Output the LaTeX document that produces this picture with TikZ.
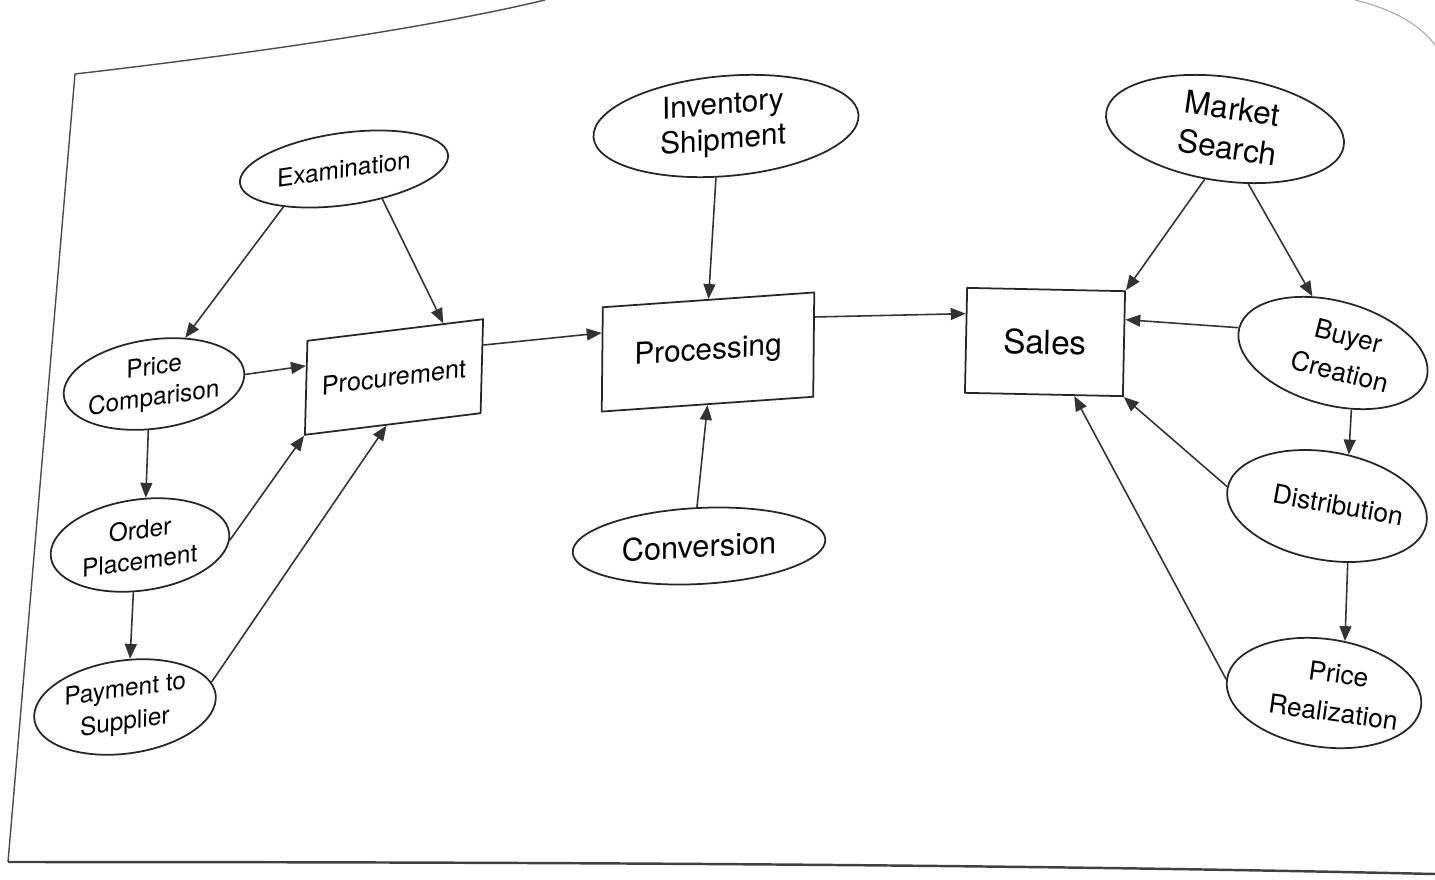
\documentclass[tikz,border=0pt]{standalone}
\usepackage{fontspec}
\setmainfont{TeX Gyre Heros}
\usetikzlibrary{shapes.geometric, arrows.meta, calc}
\begin{document}
\begin{tikzpicture}[x=0.02cm, y=-0.02cm,
  ell/.style={draw=black!85, line width=1pt, ellipse, inner sep=0pt},
  box/.style={draw=black!85, line width=1pt, rectangle, inner sep=0pt},
  lbl/.style={inner sep=0pt, align=center, text=black},
  arr/.style={draw=black!80, line width=0.9pt, -{Triangle[length=8.5pt, width=6.8pt]}},
  frame/.style={draw=black!70, line width=0.8pt}
]
\useasboundingbox (0,0) rectangle (1435,879);

% page frame
\draw[frame] (8,862) -- (75,74) .. controls (230,56) and (420,30) .. (545,0);
\draw[frame, draw=black!75, line width=1.4pt] (8,862) .. controls (500,862) and (1000,864) .. (1435,874);
\draw[black!35, line width=0.6pt] (1355,0) .. controls (1395,10) and (1420,25) .. (1435,45);

% left group
\node[ell, rotate=8, minimum width=4.2cm, minimum height=1.44cm] (exam) at (344,169) {};
\node[lbl, rotate=8, xslant=0.15, font=\fontsize{14}{17.5}\selectfont] (examT) at (exam.center) {Examination};

\node[ell, rotate=8, minimum width=3.64cm, minimum height=1.78cm] (pc) at (154,384) {};
\node[lbl, rotate=8, xslant=0.15, font=\fontsize{14}{17.5}\selectfont] (pcT) at (pc.center) {Price\\Comparison};

\node[ell, rotate=8, minimum width=3.6cm, minimum height=1.82cm] (op) at (140,545) {};
\node[lbl, rotate=8, xslant=0.15, font=\fontsize{14}{17.5}\selectfont] (opT) at (op.center) {Order\\Placement};

\node[ell, rotate=8, minimum width=3.66cm, minimum height=1.86cm] (pay) at (125,707) {};
\node[lbl, rotate=8, xslant=0.15, font=\fontsize{14}{18.5}\selectfont] (payT) at (pay.center) {Payment to\\Supplier};

\node[box, rotate=7, xslant=0.15, minimum width=3.54cm, minimum height=1.86cm,
      font=\fontsize{14.5}{17}\selectfont] (proc) at (394,377) {Procurement};

% middle group
\node[ell, rotate=5, minimum width=5.32cm, minimum height=2.0cm] (inv) at (726,126) {};
\node[lbl, rotate=5, xslant=0.08, font=\fontsize{17}{20}\selectfont] (invT) at (723,124) {Inventory\\Shipment};

\node[box, rotate=4, xslant=0.08, minimum width=4.24cm, minimum height=2.08cm,
      font=\fontsize{17}{20}\selectfont] (pg) at (708,352) {Processing};

\node[ell, rotate=3, minimum width=5.06cm, minimum height=1.52cm] (conv) at (699,546) {};
\node[lbl, rotate=3, xslant=0.05, font=\fontsize{17.5}{20}\selectfont] (convT) at (conv.center) {Conversion};

% right group
\node[box, rotate=-1.2, minimum width=3.16cm, minimum height=2.1cm,
      font=\fontsize{19}{22}\selectfont] (sales) at (1045,342) {Sales};

\node[ell, rotate=-8, minimum width=4.8cm, minimum height=2.08cm] (ms) at (1225,129) {};
\node[lbl, rotate=-8, font=\fontsize{18}{22.5}\selectfont] (msT) at (1230,128) {Market\\Search};

\node[ell, rotate=-15, minimum width=3.88cm, minimum height=2.08cm] (bc) at (1333,353) {};
\node[lbl, rotate=-14, font=\fontsize{15}{21}\selectfont] (bcT) at (1344,354) {Buyer\\Creation};

\node[ell, rotate=-10, minimum width=4.04cm, minimum height=2.16cm] (dist) at (1327,506) {};
\node[lbl, rotate=-10, font=\fontsize{15}{20}\selectfont] (distT) at (1338,505) {Distribution};

\node[ell, rotate=-8, minimum width=3.92cm, minimum height=2.16cm] (pr) at (1324,693) {};
\node[lbl, rotate=-8, font=\fontsize{15}{22}\selectfont] (prT) at (1336,693) {Price\\Realization};

% connectors
\draw[arr] (exam.204) -- (pc.48);
\draw[arr] (exam.314) -- ($(proc.north)!0.54!(proc.north east)$);
\draw[arr] (pc.358) -- ($(proc.west)!0.46!(proc.north west)$);
\draw[arr] (pc.255) -- (op.75);
\draw[arr] (op.355) -- (proc.south west);
\draw[arr] (op.254) -- (pay.76);
\draw[arr] (pay.8) -- ($(proc.south)!0.07!(proc.south west)$);
\draw[arr] ($(proc.east)!0.44!(proc.north east)$) -- ($(pg.west)!0.5!(pg.north west)$);
\draw[arr] (inv.254) -- (pg.north);
\draw[arr] (conv.90) -- (pg.south);
\draw[arr] ($(pg.east)!0.52!(pg.north east)$) -- ($(sales.west)!0.5!(sales.north west)$);
\draw[arr] (ms.256) -- (sales.north east);
\draw[arr] (ms.301) -- (bc.125);
\draw[arr] (bc.180) -- ($(sales.east)!0.45!(sales.north east)$);
\draw[arr] (bc.303) -- (dist.77);
\draw[arr] (dist.179) -- (sales.south east);
\draw[arr] (dist.300) -- (pr.76);
\draw[arr] (pr.180) -- ($(sales.south)!0.38!(sales.south east)$);
\end{tikzpicture}
\end{document}
